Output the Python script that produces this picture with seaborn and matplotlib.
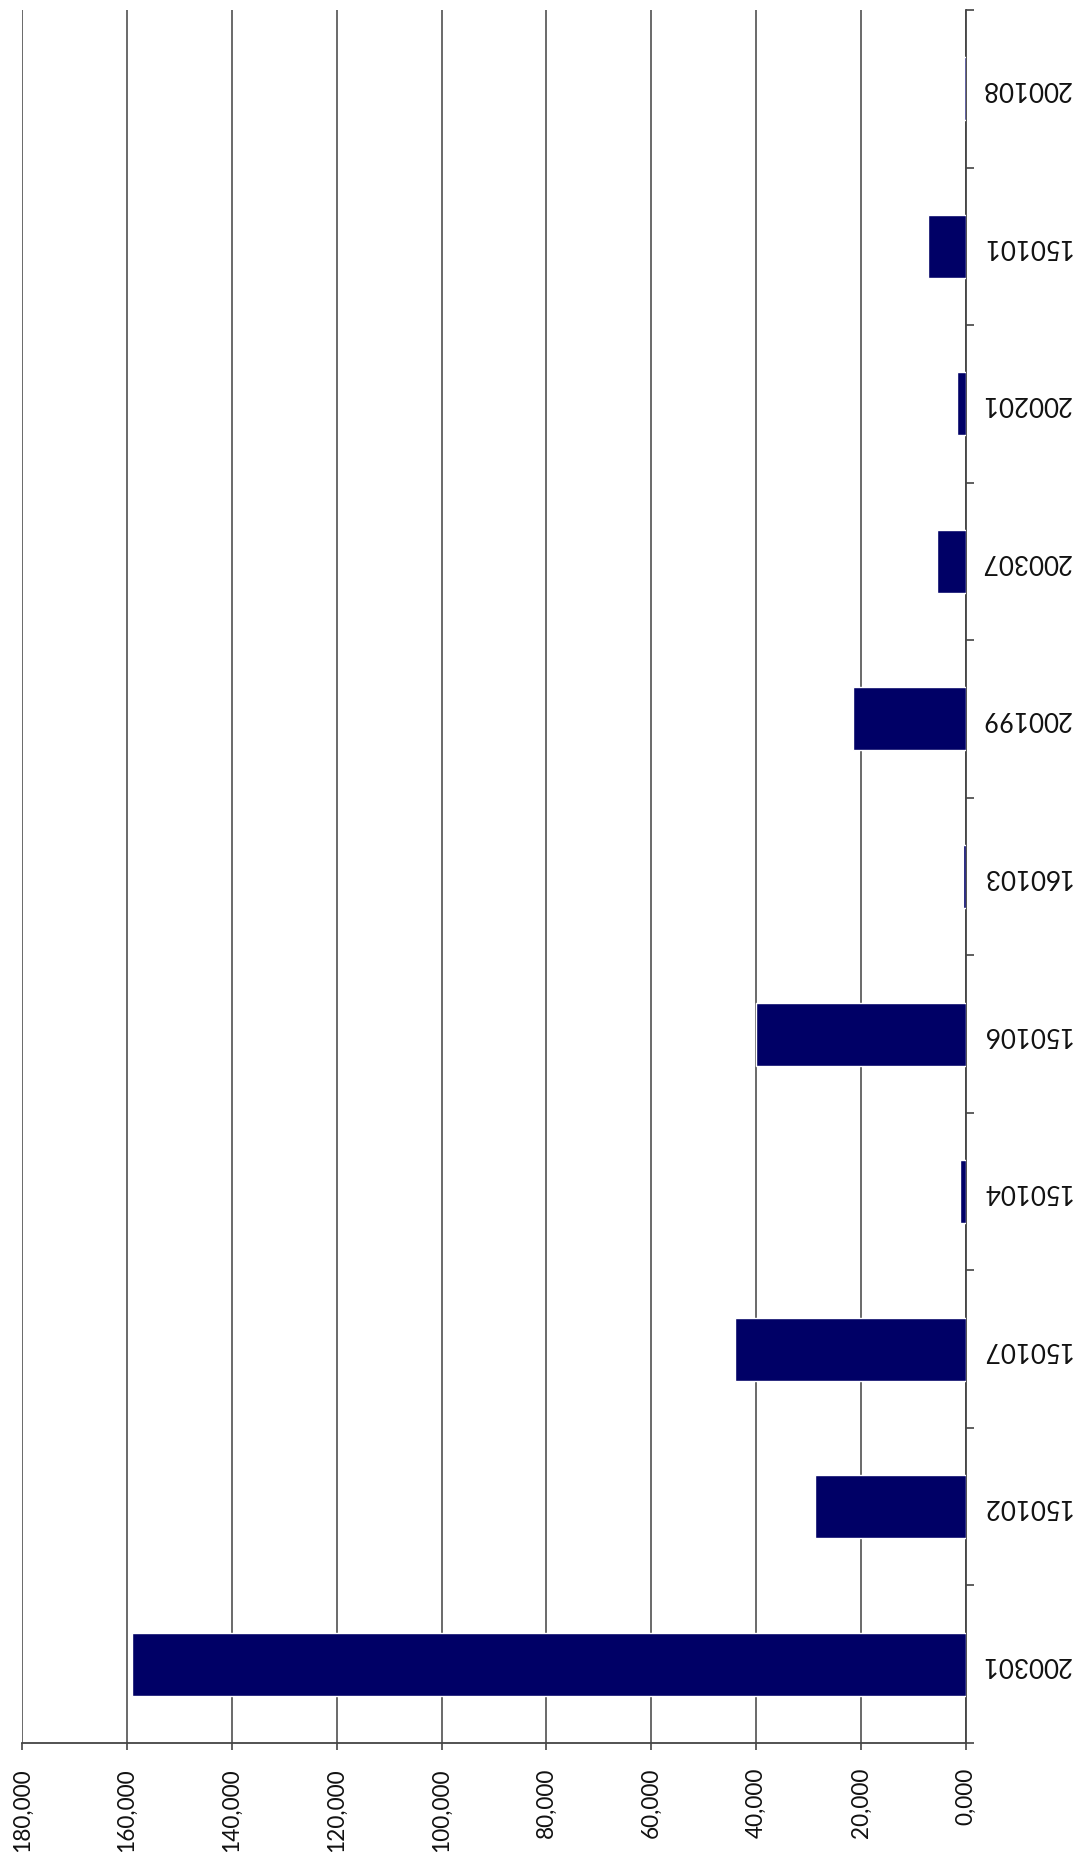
import matplotlib
matplotlib.use("Agg")
import matplotlib.pyplot as plt
import seaborn as sns
import pandas as pd
import numpy as np

# ---- data ----
categories = ["200108", "150101", "200201", "200307", "200199", "160103",
              "150106", "150104", "150107", "150102", "200301"]
values = [400, 7200, 1650, 5600, 21500, 650, 40100, 1200, 44000, 28700, 159000]
xtick_values = [0, 20000, 40000, 60000, 80000, 100000, 120000, 140000, 160000, 180000]
xtick_labels = ["0,000", "20,000", "40,000", "60,000", "80,000", "100,000",
                "120,000", "140,000", "160,000", "180,000"]

df = pd.DataFrame({"code": categories, "value": values})

sns.set_style("white")
plt.rcParams["font.family"] = ["Lato", "DejaVu Sans"]

fig = plt.figure(figsize=(10.79, 18.62), dpi=100)
W, H = 1079, 1862
left, right, top, bottom = 22, 966, 10, 1743
ax = fig.add_axes([left / W, 1 - bottom / H, (right - left) / W, (bottom - top) / H])

sns.barplot(data=df, x="value", y="code", order=categories, orient="h",
            color="#000066", saturation=1, width=0.4, ax=ax, zorder=3)

ax.set_xlim(180000, 0)
ax.set_ylim(len(categories) - 0.5, -0.5)

grid_c = "#505050"
ax.set_xticks(xtick_values)
ax.set_xticklabels(xtick_labels, rotation=90, fontsize=17, color="#111111")
ax.grid(axis="x", color=grid_c, linewidth=1.2, zorder=0)
ax.grid(axis="y", visible=False)
ax.set_axisbelow(True)

ax.yaxis.tick_right()
ax.yaxis.set_label_position("right")
ax.set_yticks(np.arange(len(categories)))
ax.set_yticklabels(categories, rotation=180, fontsize=17, color="#111111",
                   va="center")
ax.set_yticks(np.arange(len(categories) + 1) - 0.5, minor=True)
ax.tick_params(axis="y", which="major", length=0, pad=10)
ax.tick_params(axis="y", which="minor", length=6, width=1.2, color="#444444",
               right=True, left=False)
ax.tick_params(axis="x", which="major", length=5, width=1.2, color="#444444",
               pad=12, bottom=True)

for s in ["left", "top"]:
    ax.spines[s].set_visible(False)
for s in ["right", "bottom"]:
    ax.spines[s].set_visible(True)
    ax.spines[s].set_color("#444444")
    ax.spines[s].set_linewidth(1.3)

ax.set_xlabel("")
ax.set_ylabel("")

# --- fit label sizes / offsets to the reference layout (pixel targets) ---
fig.canvas.draw()
r = fig.canvas.get_renderer()
w = ax.get_yticklabels()[0].get_window_extent(r).width
ysize = 17 * 90.0 / w
h = ax.get_xticklabels()[-1].get_window_extent(r).height
xsize = 17 * 84.0 / h
for t in ax.get_yticklabels():
    t.set_fontsize(ysize)
for t in ax.get_xticklabels():
    t.set_fontsize(xsize)
fig.canvas.draw()
bb = ax.get_yticklabels()[0].get_window_extent(r)
ypad = 10 + (981 - bb.x0) * 72 / 100
bbx = ax.get_xticklabels()[-1].get_window_extent(r)
xpad = 12 + (bbx.y1 - (H - 1768)) * 72 / 100
ax.tick_params(axis="y", which="major", pad=ypad)
ax.tick_params(axis="x", which="major", pad=xpad)

fig.savefig("out.png", dpi=100, facecolor="white")
